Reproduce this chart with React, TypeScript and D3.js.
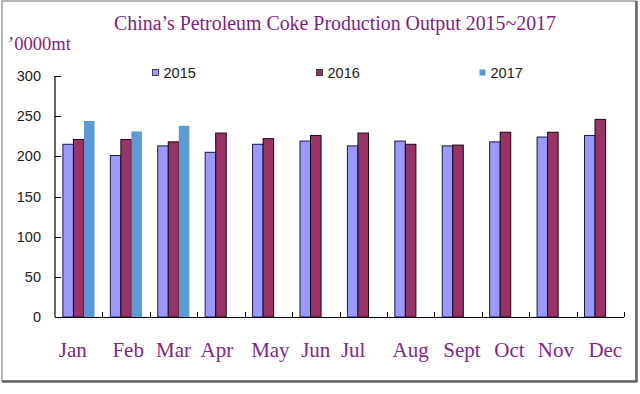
import React from "react";
import * as d3 from "d3";

const months = ["Jan", "Feb", "Mar", "Apr", "May", "Jun", "Jul", "Aug", "Sept", "Oct", "Nov", "Dec"];
const seriesNames = ["2015", "2016", "2017"];
const values2015 = [215, 201, 213, 205, 215, 219, 213, 219, 213, 218, 224, 226];
const values2016 = [221, 221, 218, 229, 222, 226, 229, 215, 214, 230, 230, 246];
const values2017: (number | null)[] = [244, 231, 238, null, null, null, null, null, null, null, null, null];
const yTicks = [0, 50, 100, 150, 200, 250, 300];
const titleText = "China\u2019s Petroleum Coke Production Output 2015~2017";
const unitText = "\u20190000mt";

const W = 640;
const H = 394;
const M = { left: 55, right: 624, top: 76, bottom: 317 };
const fills = ["#9999FF", "#993366", "#5B9BD5"];
const strokes = ["#1a1a4a", "#1a0a10", "none"];
const legendX = [152.5, 316.5, 479.5];
const labelShift = [-6, 2, 0, -4, 2, 0, -10, 0, 4, 4, 3, 5];

export default function App() {
  const x0 = d3.scaleBand<string>().domain(months).range([M.left, M.right]).paddingInner(0).paddingOuter(0);
  const x1 = d3.scaleBand<string>().domain(seriesNames).range([0, x0.bandwidth()]).paddingInner(0).paddingOuter(0.75);
  const y = d3.scaleLinear().domain([0, 300]).range([M.bottom, M.top]);
  const all = [values2015, values2016, values2017];

  return (
    <svg width={W} height={H} style={{ position: "absolute", left: 0, top: 0, background: "#fff" }}>
      <rect x={0} y={0} width={W} height={H} fill="#fff" />
      {/* frame */}
      <rect x={2} y={1} width={634} height={380} fill="none" stroke="#a0a0a0" strokeWidth={1.5} />
      <line x1={636.5} y1={1} x2={636.5} y2={382} stroke="#666" strokeWidth={2.5} />
      <line x1={2} y1={381.5} x2={637.5} y2={381.5} stroke="#666" strokeWidth={2.5} />

      {/* title */}
      <text x={335} y={30} textAnchor="middle" fontFamily="'Liberation Serif', serif" fontSize={20}
        fill="#7d1f82" textLength={442} lengthAdjust="spacingAndGlyphs">{titleText}</text>
      <text x={8} y={50} fontFamily="'Liberation Serif', serif" fontSize={18} fill="#7d1f82" textLength={63} lengthAdjust="spacingAndGlyphs">{unitText}</text>

      {/* bars */}
      {months.map((m, i) => (
        <g key={m}>
          {all.map((vals, s) => {
            const v = vals[i];
            if (v == null) return null;
            const bx = (x0(m) as number) + (x1(seriesNames[s]) as number);
            return (
              <rect key={s} x={bx} y={y(v)} width={x1.bandwidth()} height={y(0) - y(v)}
                fill={fills[s]} stroke={strokes[s]} strokeWidth={s === 2 ? 0 : 1} />
            );
          })}
        </g>
      ))}

      {/* y axis */}
      <line x1={M.left} y1={M.top} x2={M.left} y2={M.bottom} stroke="#000" strokeWidth={1.2} />
      {yTicks.map((t) => (
        <g key={t}>
          <line x1={M.left} x2={M.left + 6} y1={Math.round(y(t)) + 0.5} y2={Math.round(y(t)) + 0.5} stroke="#000" />
          <text x={41} y={y(t) + 5} textAnchor="end" fontFamily="'Liberation Sans', Arial, sans-serif" fontSize={14.5}
            fill="#222">{t}</text>
        </g>
      ))}

      {/* x axis */}
      <line x1={M.left} y1={M.bottom + 0.5} x2={M.right} y2={M.bottom + 0.5} stroke="#000" strokeWidth={1.2} />
      {months.map((m) => {
        const xe = (x0(m) as number) + x0.bandwidth();
        return <line key={m} x1={Math.round(xe) + 0.5} x2={Math.round(xe) + 0.5} y1={M.bottom} y2={M.bottom - 5} stroke="#000" />;
      })}
      {months.map((m, i) => (
        <text key={m} x={(x0(m) as number) + x0.bandwidth() / 2 + labelShift[i]} y={357} textAnchor="middle"
          fontFamily="'Liberation Serif', serif" fontSize={21} fill="#80288a">{m}</text>
      ))}

      {/* legend */}
      {seriesNames.map((s, i) => (
        <g key={s}>
          <rect x={legendX[i]} y={69.5} width={6} height={6} fill={fills[i]} stroke={i === 2 ? "none" : "#222"} strokeWidth={0.8} />
          <text x={legendX[i] + 11} y={77.5} fontFamily="'Liberation Sans', Arial, sans-serif" fontSize={14.5} fill="#222">{s}</text>
        </g>
      ))}
    </svg>
  );
}
